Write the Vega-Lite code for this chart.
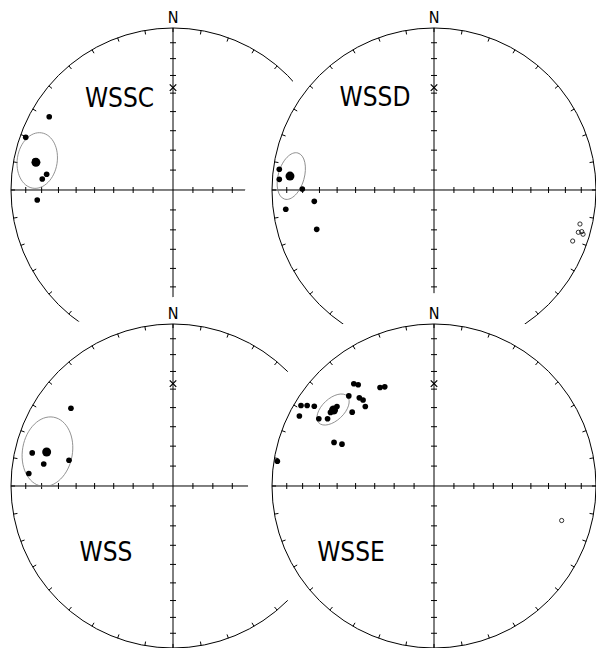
{
  "$schema": "https://vega.github.io/schema/vega-lite/v6.json",
  "padding": 0,
  "spacing": 0,
  "bounds": "flush",
  "columns": 2,
  "config": {"view": {"stroke": null}, "axis": {"disable": true}, "legend": {"disable": true}},
  "datasets": {
    "origin": [{"x": 0, "y": 0}],
    "hline": [{"x": -1, "x2": 1, "y": 0}],
    "vline": [{"x": 0, "y": -1, "y2": 1}],
    "hticks": [
      {"x": -0.909, "y": 0}, {"x": -0.811, "y": 0}, {"x": -0.707, "y": 0}, {"x": -0.598, "y": 0},
      {"x": -0.484, "y": 0}, {"x": -0.366, "y": 0}, {"x": -0.246, "y": 0}, {"x": -0.123, "y": 0},
      {"x": 0.123, "y": 0}, {"x": 0.246, "y": 0}, {"x": 0.366, "y": 0}, {"x": 0.484, "y": 0},
      {"x": 0.598, "y": 0}, {"x": 0.707, "y": 0}, {"x": 0.811, "y": 0}, {"x": 0.909, "y": 0}
    ],
    "vticks": [
      {"y": -0.909, "x": 0}, {"y": -0.811, "x": 0}, {"y": -0.707, "x": 0}, {"y": -0.598, "x": 0},
      {"y": -0.484, "x": 0}, {"y": -0.366, "x": 0}, {"y": -0.246, "x": 0}, {"y": -0.123, "x": 0},
      {"y": 0.123, "x": 0}, {"y": 0.246, "x": 0}, {"y": 0.366, "x": 0}, {"y": 0.484, "x": 0},
      {"y": 0.598, "x": 0}, {"y": 0.707, "x": 0}, {"y": 0.811, "x": 0}, {"y": 0.909, "x": 0}
    ],
    "star": [{"x": 0, "y": 0.632}],
    "north": [{"x": 0, "y": 1.03, "name": "N"}],
    "WSSC": [
      {"t": "label", "x": -0.33, "y": 0.512, "name": "WSSC"},
      {"t": "ell", "x": -0.838, "y": 0.182},
      {"t": "mean", "x": -0.846, "y": 0.171},
      {"t": "site", "x": -0.852, "y": 0.18},
      {"t": "site", "x": -0.764, "y": 0.452},
      {"t": "site", "x": -0.909, "y": 0.325},
      {"t": "site", "x": -0.78, "y": 0.097},
      {"t": "site", "x": -0.807, "y": 0.068},
      {"t": "site", "x": -0.838, "y": -0.062}
    ],
    "WSSD": [
      {"t": "label", "x": -0.364, "y": 0.519, "name": "WSSD"},
      {"t": "ell", "x": -0.881, "y": 0.086},
      {"t": "mean", "x": -0.889, "y": 0.086},
      {"t": "site", "x": -0.955, "y": 0.128},
      {"t": "site", "x": -0.955, "y": 0.066},
      {"t": "site", "x": -0.813, "y": 0.006},
      {"t": "site", "x": -0.739, "y": -0.07},
      {"t": "site", "x": -0.915, "y": -0.119},
      {"t": "site", "x": -0.724, "y": -0.243},
      {"t": "upper", "x": 0.901, "y": -0.21},
      {"t": "upper", "x": 0.891, "y": -0.261},
      {"t": "upper", "x": 0.912, "y": -0.257},
      {"t": "upper", "x": 0.92, "y": -0.273},
      {"t": "upper", "x": 0.856, "y": -0.315}
    ],
    "WSS": [
      {"t": "label", "x": -0.414, "y": -0.463, "name": "WSS"},
      {"t": "ell", "x": -0.775, "y": 0.212},
      {"t": "mean", "x": -0.78, "y": 0.21},
      {"t": "site", "x": -0.63, "y": 0.48},
      {"t": "site", "x": -0.869, "y": 0.204},
      {"t": "site", "x": -0.798, "y": 0.136},
      {"t": "site", "x": -0.642, "y": 0.159},
      {"t": "site", "x": -0.89, "y": 0.077}
    ],
    "WSSE": [
      {"t": "label", "x": -0.512, "y": -0.46, "name": "WSSE"},
      {"t": "ell", "x": -0.623, "y": 0.472},
      {"t": "mean", "x": -0.62, "y": 0.469},
      {"t": "site", "x": -0.967, "y": 0.153},
      {"t": "site", "x": -0.831, "y": 0.432},
      {"t": "site", "x": -0.821, "y": 0.497},
      {"t": "site", "x": -0.783, "y": 0.497},
      {"t": "site", "x": -0.739, "y": 0.492},
      {"t": "site", "x": -0.639, "y": 0.454},
      {"t": "site", "x": -0.599, "y": 0.491},
      {"t": "site", "x": -0.711, "y": 0.415},
      {"t": "site", "x": -0.657, "y": 0.415},
      {"t": "site", "x": -0.526, "y": 0.556},
      {"t": "site", "x": -0.505, "y": 0.456},
      {"t": "site", "x": -0.495, "y": 0.631},
      {"t": "site", "x": -0.468, "y": 0.625},
      {"t": "site", "x": -0.333, "y": 0.608},
      {"t": "site", "x": -0.304, "y": 0.612},
      {"t": "site", "x": -0.461, "y": 0.544},
      {"t": "site", "x": -0.438, "y": 0.531},
      {"t": "site", "x": -0.424, "y": 0.491},
      {"t": "site", "x": -0.617, "y": 0.269},
      {"t": "site", "x": -0.568, "y": 0.258},
      {"t": "upper", "x": 0.788, "y": -0.213}
    ]
  },
  "concat": [
    {
      "width": 261, "height": 296,
      "data": {"name": "WSSC"},
      "encoding": {
        "x": {"field": "x", "type": "quantitative", "axis": null, "scale": {"domain": [-1.0679, 0.5432], "nice": false, "zero": false}},
        "y": {"field": "y", "type": "quantitative", "axis": null, "scale": {"domain": [-0.6543, 1.1728], "nice": false, "zero": false}}
      },
      "layer": [
        {"data": {"name": "origin"}, "mark": {"type": "point", "shape": "circle", "size": 104976, "filled": false, "stroke": "black", "strokeWidth": 1, "opacity": 1}},
        {"data": {"name": "origin"}, "mark": {"type": "point", "shape": "M0,-1L0,-0.975M0.1736,-0.9848L0.1693,-0.9602M0.342,-0.9397L0.3335,-0.9162M0.5,-0.866L0.4875,-0.8444M0.6428,-0.766L0.6267,-0.7469M0.766,-0.6428L0.7469,-0.6267M0.866,-0.5L0.8444,-0.4875M0.9397,-0.342L0.9162,-0.3335M0.9848,-0.1736L0.9602,-0.1693M1,0L0.975,0M0.9848,0.1736L0.9602,0.1693M0.9397,0.342L0.9162,0.3335M0.866,0.5L0.8444,0.4875M0.766,0.6428L0.7469,0.6267M0.6428,0.766L0.6267,0.7469M0.5,0.866L0.4875,0.8444M0.342,0.9397L0.3335,0.9162M0.1736,0.9848L0.1693,0.9602M0,1L0,0.975M-0.1736,0.9848L-0.1693,0.9602M-0.342,0.9397L-0.3335,0.9162M-0.5,0.866L-0.4875,0.8444M-0.6428,0.766L-0.6267,0.7469M-0.766,0.6428L-0.7469,0.6267M-0.866,0.5L-0.8444,0.4875M-0.9397,0.342L-0.9162,0.3335M-0.9848,0.1736L-0.9602,0.1693M-1,0L-0.975,0M-0.9848,-0.1736L-0.9602,-0.1693M-0.9397,-0.342L-0.9162,-0.3335M-0.866,-0.5L-0.8444,-0.4875M-0.766,-0.6428L-0.7469,-0.6267M-0.6428,-0.766L-0.6267,-0.7469M-0.5,-0.866L-0.4875,-0.8444M-0.342,-0.9397L-0.3335,-0.9162M-0.1736,-0.9848L-0.1693,-0.9602", "size": 104976, "filled": false, "stroke": "black", "strokeWidth": 1, "opacity": 1}},
        {"data": {"name": "hline"}, "mark": {"type": "rule", "color": "black", "strokeWidth": 1}, "encoding": {"x2": {"field": "x2"}}},
        {"data": {"name": "vline"}, "mark": {"type": "rule", "color": "black", "strokeWidth": 1}, "encoding": {"y2": {"field": "y2"}}},
        {"data": {"name": "hticks"}, "mark": {"type": "tick", "orient": "vertical", "size": 6, "thickness": 1, "color": "black", "opacity": 1}},
        {"data": {"name": "vticks"}, "mark": {"type": "tick", "orient": "horizontal", "size": 6, "thickness": 1, "color": "black", "opacity": 1}},
        {"data": {"name": "star"}, "mark": {"type": "point", "shape": "M-1,-1L1,1M-1,1L1,-1", "size": 42, "filled": false, "stroke": "black", "strokeWidth": 1.3, "opacity": 1}},
        {"transform": [{"filter": "datum.t === 'ell'"}], "mark": {"type": "point", "shape": "M0.714,0C0.714,0.552,0.394,1,0,1C-0.394,1,-0.714,0.552,-0.714,0C-0.714,-0.552,-0.394,-1,0,-1C0.394,-1,0.714,-0.552,0.714,0Z", "size": 3136, "angle": 9, "filled": false, "stroke": "#808080", "strokeWidth": 0.8, "opacity": 1}},
        {"transform": [{"filter": "datum.t === 'site'"}], "mark": {"type": "point", "shape": "circle", "size": 32, "filled": true, "color": "black", "opacity": 1}},
        {"transform": [{"filter": "datum.t === 'mean'"}], "mark": {"type": "point", "shape": "circle", "size": 80, "filled": true, "color": "black", "opacity": 1}},
        {"transform": [{"filter": "datum.t === 'upper'"}], "mark": {"type": "point", "shape": "circle", "size": 18, "filled": false, "stroke": "black", "strokeWidth": 0.8, "opacity": 1}},
        {"transform": [{"filter": "datum.t === 'label'"}], "mark": {"type": "text", "font": "DejaVu Sans Condensed, Liberation Sans Narrow, Liberation Sans", "fontSize": 26, "align": "center", "baseline": "alphabetic", "color": "black"}, "encoding": {"text": {"field": "name"}}},
        {"data": {"name": "north"}, "mark": {"type": "text", "font": "DejaVu Sans Condensed, Liberation Sans Narrow, Liberation Sans", "fontSize": 16, "align": "center", "baseline": "alphabetic", "color": "black"}, "encoding": {"text": {"field": "name"}}}
      ]
    },
    {
      "width": 261, "height": 296,
      "data": {"name": "WSSD"},
      "encoding": {
        "x": {"field": "x", "type": "quantitative", "axis": null, "scale": {"domain": [-1.0679, 0.5432], "nice": false, "zero": false}},
        "y": {"field": "y", "type": "quantitative", "axis": null, "scale": {"domain": [-0.6543, 1.1728], "nice": false, "zero": false}}
      },
      "layer": [
        {"data": {"name": "origin"}, "mark": {"type": "point", "shape": "M-0.705,-0.545L-0.625,-0.75L-0.3,-0.75L-0.3,0.7L-0.98,0.7L-0.945,0Z", "size": 160000, "filled": true, "fill": "white", "strokeWidth": 0, "opacity": 1}},
        {"data": {"name": "origin"}, "mark": {"type": "point", "shape": "circle", "size": 104976, "filled": false, "stroke": "black", "strokeWidth": 1, "opacity": 1}},
        {"data": {"name": "origin"}, "mark": {"type": "point", "shape": "M0,-1L0,-0.975M0.1736,-0.9848L0.1693,-0.9602M0.342,-0.9397L0.3335,-0.9162M0.5,-0.866L0.4875,-0.8444M0.6428,-0.766L0.6267,-0.7469M0.766,-0.6428L0.7469,-0.6267M0.866,-0.5L0.8444,-0.4875M0.9397,-0.342L0.9162,-0.3335M0.9848,-0.1736L0.9602,-0.1693M1,0L0.975,0M0.9848,0.1736L0.9602,0.1693M0.9397,0.342L0.9162,0.3335M0.866,0.5L0.8444,0.4875M0.766,0.6428L0.7469,0.6267M0.6428,0.766L0.6267,0.7469M0.5,0.866L0.4875,0.8444M0.342,0.9397L0.3335,0.9162M0.1736,0.9848L0.1693,0.9602M0,1L0,0.975M-0.1736,0.9848L-0.1693,0.9602M-0.342,0.9397L-0.3335,0.9162M-0.5,0.866L-0.4875,0.8444M-0.6428,0.766L-0.6267,0.7469M-0.766,0.6428L-0.7469,0.6267M-0.866,0.5L-0.8444,0.4875M-0.9397,0.342L-0.9162,0.3335M-0.9848,0.1736L-0.9602,0.1693M-1,0L-0.975,0M-0.9848,-0.1736L-0.9602,-0.1693M-0.9397,-0.342L-0.9162,-0.3335M-0.866,-0.5L-0.8444,-0.4875M-0.766,-0.6428L-0.7469,-0.6267M-0.6428,-0.766L-0.6267,-0.7469M-0.5,-0.866L-0.4875,-0.8444M-0.342,-0.9397L-0.3335,-0.9162M-0.1736,-0.9848L-0.1693,-0.9602", "size": 104976, "filled": false, "stroke": "black", "strokeWidth": 1, "opacity": 1}},
        {"data": {"name": "hline"}, "mark": {"type": "rule", "color": "black", "strokeWidth": 1}, "encoding": {"x2": {"field": "x2"}}},
        {"data": {"name": "vline"}, "mark": {"type": "rule", "color": "black", "strokeWidth": 1}, "encoding": {"y2": {"field": "y2"}}},
        {"data": {"name": "hticks"}, "mark": {"type": "tick", "orient": "vertical", "size": 6, "thickness": 1, "color": "black", "opacity": 1}},
        {"data": {"name": "vticks"}, "mark": {"type": "tick", "orient": "horizontal", "size": 6, "thickness": 1, "color": "black", "opacity": 1}},
        {"data": {"name": "star"}, "mark": {"type": "point", "shape": "M-1,-1L1,1M-1,1L1,-1", "size": 42, "filled": false, "stroke": "black", "strokeWidth": 1.3, "opacity": 1}},
        {"transform": [{"filter": "datum.t === 'ell'"}], "mark": {"type": "point", "shape": "M0.542,0C0.542,0.552,0.299,1,0,1C-0.299,1,-0.542,0.552,-0.542,0C-0.542,-0.552,-0.299,-1,0,-1C0.299,-1,0.542,-0.552,0.542,0Z", "size": 2304, "angle": 16, "filled": false, "stroke": "#808080", "strokeWidth": 0.8, "opacity": 1}},
        {"transform": [{"filter": "datum.t === 'site'"}], "mark": {"type": "point", "shape": "circle", "size": 32, "filled": true, "color": "black", "opacity": 1}},
        {"transform": [{"filter": "datum.t === 'mean'"}], "mark": {"type": "point", "shape": "circle", "size": 80, "filled": true, "color": "black", "opacity": 1}},
        {"transform": [{"filter": "datum.t === 'upper'"}], "mark": {"type": "point", "shape": "circle", "size": 18, "filled": false, "stroke": "black", "strokeWidth": 0.8, "opacity": 1}},
        {"transform": [{"filter": "datum.t === 'label'"}], "mark": {"type": "text", "font": "DejaVu Sans Condensed, Liberation Sans Narrow, Liberation Sans", "fontSize": 26, "align": "center", "baseline": "alphabetic", "color": "black"}, "encoding": {"text": {"field": "name"}}},
        {"data": {"name": "north"}, "mark": {"type": "text", "font": "DejaVu Sans Condensed, Liberation Sans Narrow, Liberation Sans", "fontSize": 16, "align": "center", "baseline": "alphabetic", "color": "black"}, "encoding": {"text": {"field": "name"}}}
      ]
    },
    {
      "width": 261, "height": 296,
      "data": {"name": "WSS"},
      "encoding": {
        "x": {"field": "x", "type": "quantitative", "axis": null, "scale": {"domain": [-1.0679, 0.5432], "nice": false, "zero": false}},
        "y": {"field": "y", "type": "quantitative", "axis": null, "scale": {"domain": [-0.6543, 1.1728], "nice": false, "zero": false}}
      },
      "layer": [
        {"data": {"name": "origin"}, "mark": {"type": "point", "shape": "M-0.86,-0.65L-0.48,-0.82L0,-0.945L0.625,-0.945L0.625,-0.55L-0.86,-0.55Z", "size": 160000, "filled": true, "fill": "white", "strokeWidth": 0, "opacity": 1}},
        {"data": {"name": "origin"}, "mark": {"type": "point", "shape": "circle", "size": 104976, "filled": false, "stroke": "black", "strokeWidth": 1, "opacity": 1}},
        {"data": {"name": "origin"}, "mark": {"type": "point", "shape": "M0,-1L0,-0.975M0.1736,-0.9848L0.1693,-0.9602M0.342,-0.9397L0.3335,-0.9162M0.5,-0.866L0.4875,-0.8444M0.6428,-0.766L0.6267,-0.7469M0.766,-0.6428L0.7469,-0.6267M0.866,-0.5L0.8444,-0.4875M0.9397,-0.342L0.9162,-0.3335M0.9848,-0.1736L0.9602,-0.1693M1,0L0.975,0M0.9848,0.1736L0.9602,0.1693M0.9397,0.342L0.9162,0.3335M0.866,0.5L0.8444,0.4875M0.766,0.6428L0.7469,0.6267M0.6428,0.766L0.6267,0.7469M0.5,0.866L0.4875,0.8444M0.342,0.9397L0.3335,0.9162M0.1736,0.9848L0.1693,0.9602M0,1L0,0.975M-0.1736,0.9848L-0.1693,0.9602M-0.342,0.9397L-0.3335,0.9162M-0.5,0.866L-0.4875,0.8444M-0.6428,0.766L-0.6267,0.7469M-0.766,0.6428L-0.7469,0.6267M-0.866,0.5L-0.8444,0.4875M-0.9397,0.342L-0.9162,0.3335M-0.9848,0.1736L-0.9602,0.1693M-1,0L-0.975,0M-0.9848,-0.1736L-0.9602,-0.1693M-0.9397,-0.342L-0.9162,-0.3335M-0.866,-0.5L-0.8444,-0.4875M-0.766,-0.6428L-0.7469,-0.6267M-0.6428,-0.766L-0.6267,-0.7469M-0.5,-0.866L-0.4875,-0.8444M-0.342,-0.9397L-0.3335,-0.9162M-0.1736,-0.9848L-0.1693,-0.9602", "size": 104976, "filled": false, "stroke": "black", "strokeWidth": 1, "opacity": 1}},
        {"data": {"name": "hline"}, "mark": {"type": "rule", "color": "black", "strokeWidth": 1}, "encoding": {"x2": {"field": "x2"}}},
        {"data": {"name": "vline"}, "mark": {"type": "rule", "color": "black", "strokeWidth": 1}, "encoding": {"y2": {"field": "y2"}}},
        {"data": {"name": "hticks"}, "mark": {"type": "tick", "orient": "vertical", "size": 6, "thickness": 1, "color": "black", "opacity": 1}},
        {"data": {"name": "vticks"}, "mark": {"type": "tick", "orient": "horizontal", "size": 6, "thickness": 1, "color": "black", "opacity": 1}},
        {"data": {"name": "star"}, "mark": {"type": "point", "shape": "M-1,-1L1,1M-1,1L1,-1", "size": 42, "filled": false, "stroke": "black", "strokeWidth": 1.3, "opacity": 1}},
        {"transform": [{"filter": "datum.t === 'ell'"}], "mark": {"type": "point", "shape": "M0.714,0C0.714,0.552,0.394,1,0,1C-0.394,1,-0.714,0.552,-0.714,0C-0.714,-0.552,-0.394,-1,0,-1C0.394,-1,0.714,-0.552,0.714,0Z", "size": 4900, "angle": 10, "filled": false, "stroke": "#808080", "strokeWidth": 0.8, "opacity": 1}},
        {"transform": [{"filter": "datum.t === 'site'"}], "mark": {"type": "point", "shape": "circle", "size": 32, "filled": true, "color": "black", "opacity": 1}},
        {"transform": [{"filter": "datum.t === 'mean'"}], "mark": {"type": "point", "shape": "circle", "size": 80, "filled": true, "color": "black", "opacity": 1}},
        {"transform": [{"filter": "datum.t === 'upper'"}], "mark": {"type": "point", "shape": "circle", "size": 18, "filled": false, "stroke": "black", "strokeWidth": 0.8, "opacity": 1}},
        {"transform": [{"filter": "datum.t === 'label'"}], "mark": {"type": "text", "font": "DejaVu Sans Condensed, Liberation Sans Narrow, Liberation Sans", "fontSize": 26, "align": "center", "baseline": "alphabetic", "color": "black"}, "encoding": {"text": {"field": "name"}}},
        {"data": {"name": "north"}, "mark": {"type": "text", "font": "DejaVu Sans Condensed, Liberation Sans Narrow, Liberation Sans", "fontSize": 16, "align": "center", "baseline": "alphabetic", "color": "black"}, "encoding": {"text": {"field": "name"}}}
      ]
    },
    {
      "width": 261, "height": 296,
      "data": {"name": "WSSE"},
      "encoding": {
        "x": {"field": "x", "type": "quantitative", "axis": null, "scale": {"domain": [-1.0679, 0.5432], "nice": false, "zero": false}},
        "y": {"field": "y", "type": "quantitative", "axis": null, "scale": {"domain": [-0.6543, 1.1728], "nice": false, "zero": false}}
      },
      "layer": [
        {"data": {"name": "origin"}, "mark": {"type": "point", "shape": "M0.465,-0.8054L0.3181,-0.8739L0.1615,-0.9159L0,-0.965L-0.1615,-0.9159L-0.3181,-0.8739L-0.465,-0.8054L-0.5978,-0.7124L-0.7124,-0.5978L-0.8054,-0.465L-0.8739,-0.3181L-0.9159,-0.1615L-0.93,0L-0.9159,0.1615L-0.8739,0.3181L-0.8054,0.465L-0.7124,0.5978L-0.5978,0.7124L-0.465,0.8054L0,0.8054L0.465,0Z", "size": 160000, "filled": true, "fill": "white", "strokeWidth": 0, "opacity": 1}},
        {"data": {"name": "origin"}, "mark": {"type": "point", "shape": "circle", "size": 104976, "filled": false, "stroke": "black", "strokeWidth": 1, "opacity": 1}},
        {"data": {"name": "origin"}, "mark": {"type": "point", "shape": "M0,-1L0,-0.975M0.1736,-0.9848L0.1693,-0.9602M0.342,-0.9397L0.3335,-0.9162M0.5,-0.866L0.4875,-0.8444M0.6428,-0.766L0.6267,-0.7469M0.766,-0.6428L0.7469,-0.6267M0.866,-0.5L0.8444,-0.4875M0.9397,-0.342L0.9162,-0.3335M0.9848,-0.1736L0.9602,-0.1693M1,0L0.975,0M0.9848,0.1736L0.9602,0.1693M0.9397,0.342L0.9162,0.3335M0.866,0.5L0.8444,0.4875M0.766,0.6428L0.7469,0.6267M0.6428,0.766L0.6267,0.7469M0.5,0.866L0.4875,0.8444M0.342,0.9397L0.3335,0.9162M0.1736,0.9848L0.1693,0.9602M0,1L0,0.975M-0.1736,0.9848L-0.1693,0.9602M-0.342,0.9397L-0.3335,0.9162M-0.5,0.866L-0.4875,0.8444M-0.6428,0.766L-0.6267,0.7469M-0.766,0.6428L-0.7469,0.6267M-0.866,0.5L-0.8444,0.4875M-0.9397,0.342L-0.9162,0.3335M-0.9848,0.1736L-0.9602,0.1693M-1,0L-0.975,0M-0.9848,-0.1736L-0.9602,-0.1693M-0.9397,-0.342L-0.9162,-0.3335M-0.866,-0.5L-0.8444,-0.4875M-0.766,-0.6428L-0.7469,-0.6267M-0.6428,-0.766L-0.6267,-0.7469M-0.5,-0.866L-0.4875,-0.8444M-0.342,-0.9397L-0.3335,-0.9162M-0.1736,-0.9848L-0.1693,-0.9602", "size": 104976, "filled": false, "stroke": "black", "strokeWidth": 1, "opacity": 1}},
        {"data": {"name": "hline"}, "mark": {"type": "rule", "color": "black", "strokeWidth": 1}, "encoding": {"x2": {"field": "x2"}}},
        {"data": {"name": "vline"}, "mark": {"type": "rule", "color": "black", "strokeWidth": 1}, "encoding": {"y2": {"field": "y2"}}},
        {"data": {"name": "hticks"}, "mark": {"type": "tick", "orient": "vertical", "size": 6, "thickness": 1, "color": "black", "opacity": 1}},
        {"data": {"name": "vticks"}, "mark": {"type": "tick", "orient": "horizontal", "size": 6, "thickness": 1, "color": "black", "opacity": 1}},
        {"data": {"name": "star"}, "mark": {"type": "point", "shape": "M-1,-1L1,1M-1,1L1,-1", "size": 42, "filled": false, "stroke": "black", "strokeWidth": 1.3, "opacity": 1}},
        {"transform": [{"filter": "datum.t === 'ell'"}], "mark": {"type": "point", "shape": "M0.564,0C0.564,0.552,0.311,1,0,1C-0.311,1,-0.564,0.552,-0.564,0C-0.564,-0.552,-0.311,-1,0,-1C0.311,-1,0.564,-0.552,0.564,0Z", "size": 1521, "angle": 47, "filled": false, "stroke": "#808080", "strokeWidth": 0.8, "opacity": 1}},
        {"transform": [{"filter": "datum.t === 'site'"}], "mark": {"type": "point", "shape": "circle", "size": 32, "filled": true, "color": "black", "opacity": 1}},
        {"transform": [{"filter": "datum.t === 'mean'"}], "mark": {"type": "point", "shape": "circle", "size": 80, "filled": true, "color": "black", "opacity": 1}},
        {"transform": [{"filter": "datum.t === 'upper'"}], "mark": {"type": "point", "shape": "circle", "size": 18, "filled": false, "stroke": "black", "strokeWidth": 0.8, "opacity": 1}},
        {"transform": [{"filter": "datum.t === 'label'"}], "mark": {"type": "text", "font": "DejaVu Sans Condensed, Liberation Sans Narrow, Liberation Sans", "fontSize": 26, "align": "center", "baseline": "alphabetic", "color": "black"}, "encoding": {"text": {"field": "name"}}},
        {"data": {"name": "north"}, "mark": {"type": "text", "font": "DejaVu Sans Condensed, Liberation Sans Narrow, Liberation Sans", "fontSize": 16, "align": "center", "baseline": "alphabetic", "color": "black"}, "encoding": {"text": {"field": "name"}}}
      ]
    }
  ]
}
